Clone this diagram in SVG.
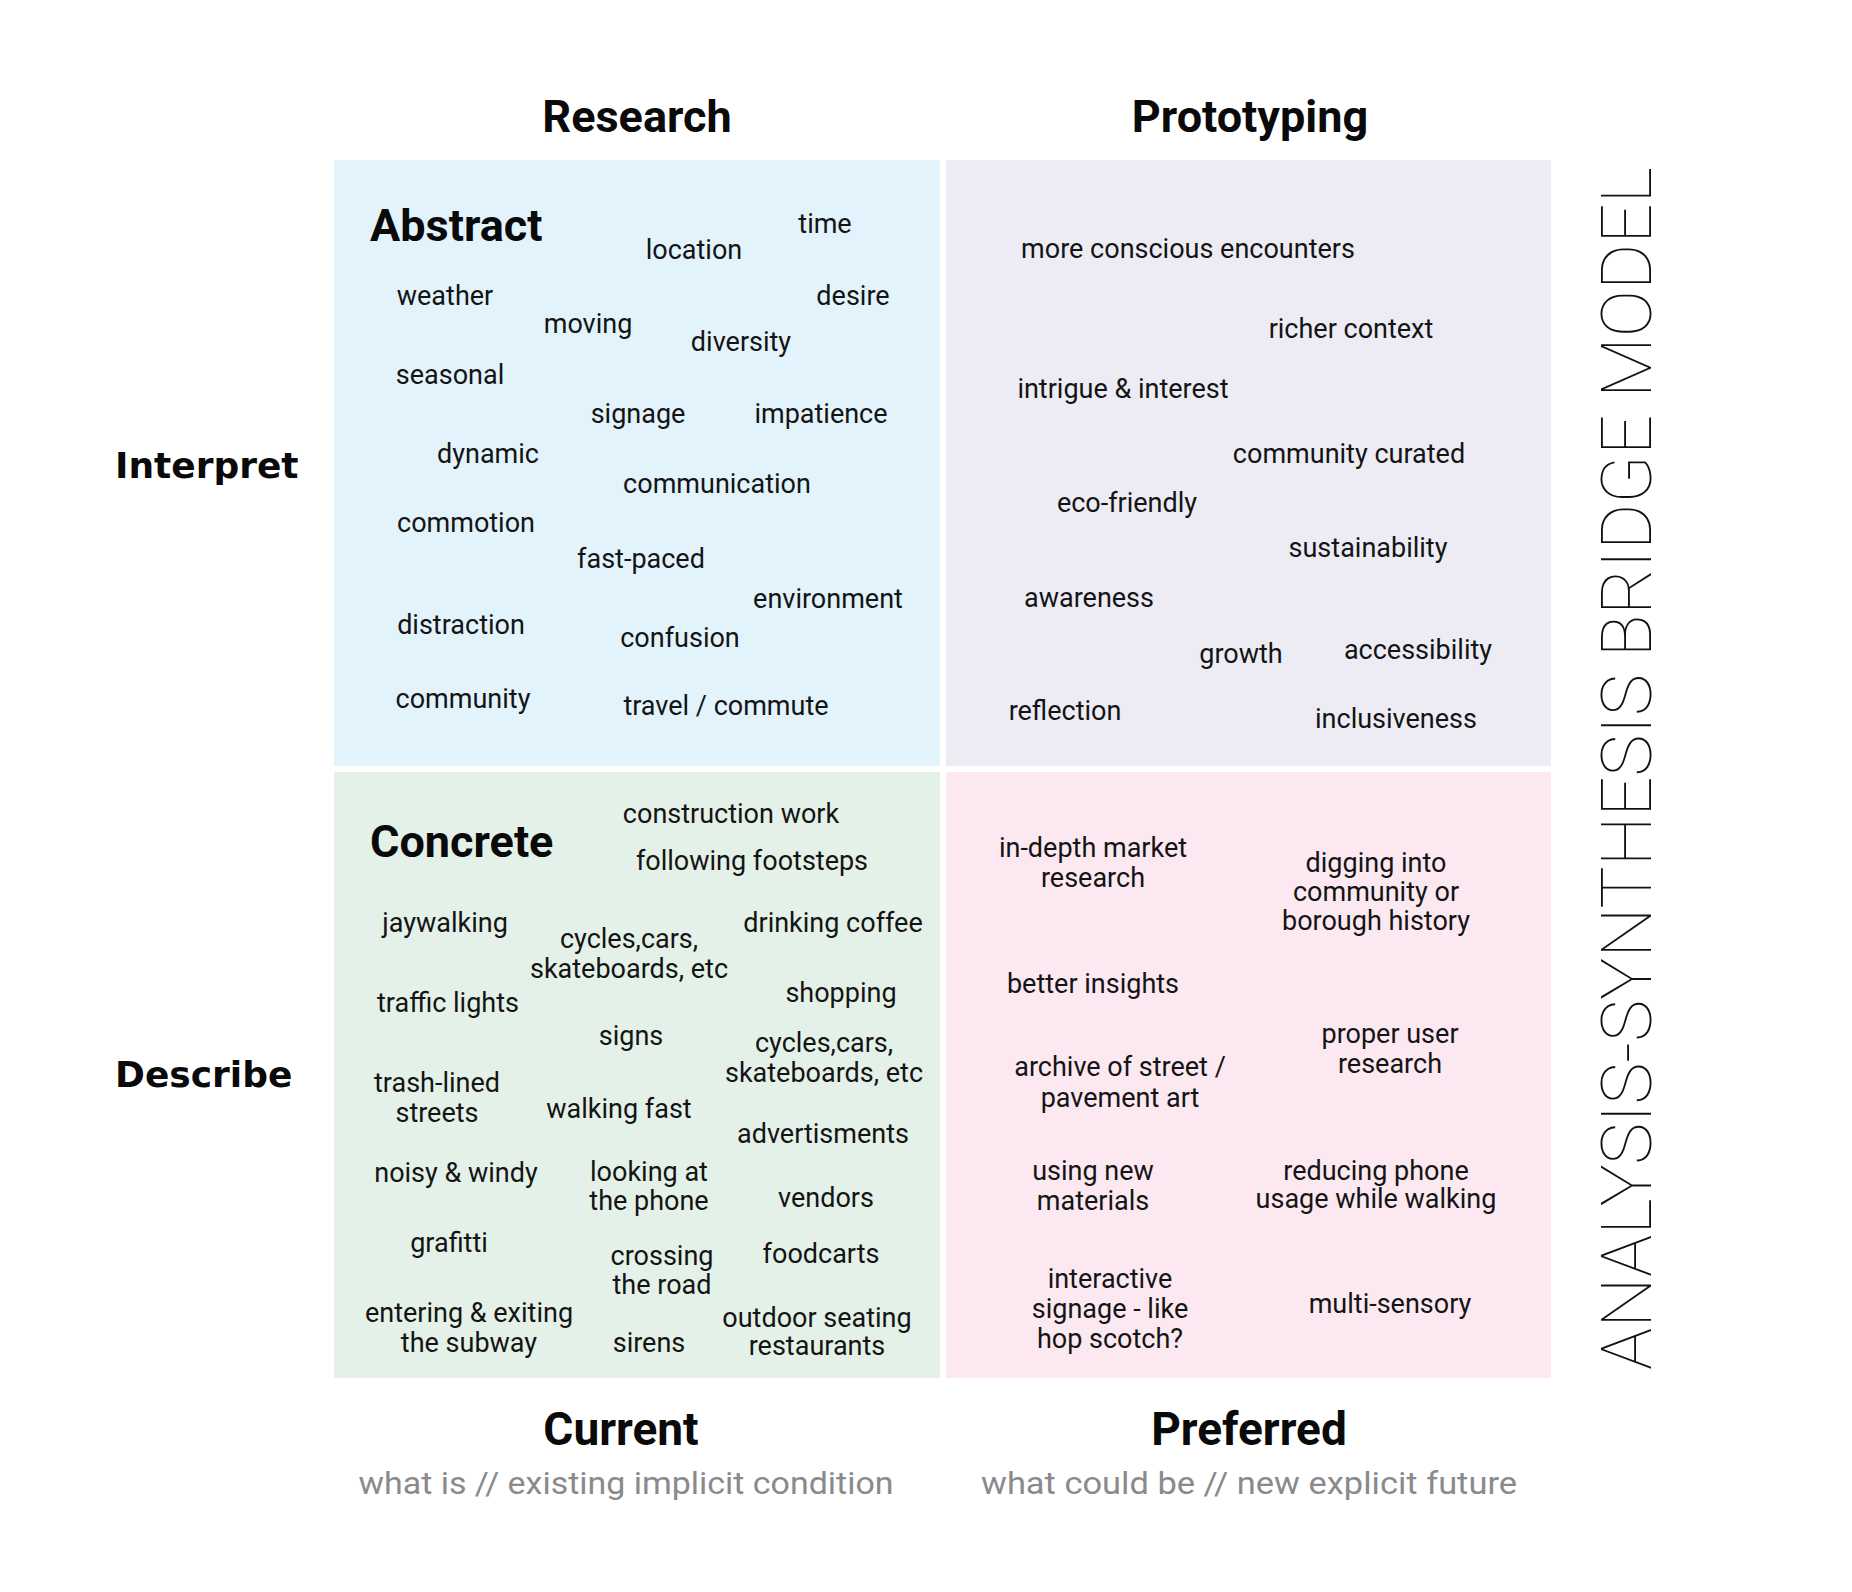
<svg xmlns="http://www.w3.org/2000/svg" width="1852" height="1592" viewBox="0 0 1852 1592">
<style>
.w{font-family:Roboto,"Liberation Sans",sans-serif;font-size:27px;fill:#141414;text-anchor:middle}
.h{font-family:Roboto,"Liberation Sans",sans-serif;font-weight:700;font-size:45px;fill:#0a0a0a}
.hc{text-anchor:middle}
.b{font-family:Roboto,"Liberation Sans",sans-serif;font-weight:700;font-size:46px;fill:#0a0a0a;text-anchor:middle}
.side{font-family:"DejaVu Sans",Verdana,sans-serif;font-weight:700;font-size:36px;fill:#0a0a0a}
.sub{font-family:Roboto,"Liberation Sans",sans-serif;font-size:32px;fill:#8a8a8d;text-anchor:middle}
.title{font-family:Roboto,Lato,"Liberation Sans",sans-serif;font-weight:100;font-size:70px;fill:#111}
</style>
<rect width="1852" height="1592" fill="#ffffff"/>
<g id="header-research"><text class="h hc" x="637" y="132">Research</text></g>
<g id="header-prototyping"><text class="h hc" x="1250" y="132">Prototyping</text></g>
<g id="label-interpret"><text class="side" x="115" y="478">Interpret</text></g>
<g id="label-describe"><text class="side" x="115" y="1087">Describe</text></g>
<g id="quadrant-abstract">
<rect x="334" y="160" width="606" height="606" fill="#e2f3fb"/>
<text class="h" x="370" y="241">Abstract</text>
<text class="w" x="825" y="233">time</text>
<text class="w" x="694" y="259">location</text>
<text class="w" x="445" y="305">weather</text>
<text class="w" x="853" y="305">desire</text>
<text class="w" x="588" y="333">moving</text>
<text class="w" x="741" y="351">diversity</text>
<text class="w" x="450" y="384">seasonal</text>
<text class="w" x="638" y="423">signage</text>
<text class="w" x="821" y="423">impatience</text>
<text class="w" x="488" y="463">dynamic</text>
<text class="w" x="717" y="493">communication</text>
<text class="w" x="466" y="532">commotion</text>
<text class="w" x="641" y="568">fast-paced</text>
<text class="w" x="828" y="608">environment</text>
<text class="w" x="461" y="634">distraction</text>
<text class="w" x="680" y="647">confusion</text>
<text class="w" x="463" y="708">community</text>
<text class="w" x="726" y="715">travel / commute</text>
</g>
<g id="quadrant-prototyping">
<rect x="946" y="160" width="605" height="606" fill="#edecf5"/>
<text class="w" x="1188" y="258">more conscious encounters</text>
<text class="w" x="1351" y="338">richer context</text>
<text class="w" x="1123" y="398">intrigue &amp; interest</text>
<text class="w" x="1349" y="463">community curated</text>
<text class="w" x="1127" y="512">eco-friendly</text>
<text class="w" x="1368" y="557">sustainability</text>
<text class="w" x="1089" y="607">awareness</text>
<text class="w" x="1241" y="663">growth</text>
<text class="w" x="1418" y="659">accessibility</text>
<text class="w" x="1065" y="720">reflection</text>
<text class="w" x="1396" y="728">inclusiveness</text>
</g>
<g id="quadrant-concrete">
<rect x="334" y="772" width="606" height="606" fill="#e4f1e8"/>
<text class="h" x="370" y="857">Concrete</text>
<text class="w" x="731" y="823">construction work</text>
<text class="w" x="752" y="870">following footsteps</text>
<text class="w" x="445" y="932">jaywalking</text>
<text class="w" x="833" y="932">drinking coffee</text>
<text class="w"><tspan x="629" y="948">cycles,cars,</tspan><tspan x="629" y="978">skateboards, etc</tspan></text>
<text class="w" x="841" y="1002">shopping</text>
<text class="w" x="448" y="1012">traffic lights</text>
<text class="w" x="631" y="1045">signs</text>
<text class="w"><tspan x="824" y="1052">cycles,cars,</tspan><tspan x="824" y="1082">skateboards, etc</tspan></text>
<text class="w"><tspan x="437" y="1092">trash-lined</tspan><tspan x="437" y="1122">streets</tspan></text>
<text class="w" x="619" y="1118">walking fast</text>
<text class="w" x="823" y="1143">advertisments</text>
<text class="w" x="456" y="1182">noisy &amp; windy</text>
<text class="w"><tspan x="649" y="1181">looking at</tspan><tspan x="649" y="1210">the phone</tspan></text>
<text class="w" x="826" y="1207">vendors</text>
<text class="w" x="449" y="1252">grafitti</text>
<text class="w"><tspan x="662" y="1265">crossing</tspan><tspan x="662" y="1294">the road</tspan></text>
<text class="w" x="821" y="1263">foodcarts</text>
<text class="w"><tspan x="469" y="1322">entering &amp; exiting</tspan><tspan x="469" y="1352">the subway</tspan></text>
<text class="w" x="649" y="1352">sirens</text>
<text class="w"><tspan x="817" y="1327">outdoor seating</tspan><tspan x="817" y="1355">restaurants</tspan></text>
</g>
<g id="quadrant-preferred">
<rect x="946" y="772" width="605" height="606" fill="#fbe8f1"/>
<text class="w"><tspan x="1093" y="857">in-depth market</tspan><tspan x="1093" y="887">research</tspan></text>
<text class="w"><tspan x="1376" y="872">digging into</tspan><tspan x="1376" y="901">community or</tspan><tspan x="1376" y="930">borough history</tspan></text>
<text class="w" x="1093" y="993">better insights</text>
<text class="w"><tspan x="1390" y="1043">proper user</tspan><tspan x="1390" y="1073">research</tspan></text>
<text class="w"><tspan x="1120" y="1076">archive of street /</tspan><tspan x="1120" y="1107">pavement art</tspan></text>
<text class="w"><tspan x="1093" y="1180">using new</tspan><tspan x="1093" y="1210">materials</tspan></text>
<text class="w"><tspan x="1376" y="1180">reducing phone</tspan><tspan x="1376" y="1208">usage while walking</tspan></text>
<text class="w"><tspan x="1110" y="1288">interactive</tspan><tspan x="1110" y="1318">signage - like</tspan><tspan x="1110" y="1348">hop scotch?</tspan></text>
<text class="w" x="1390" y="1313">multi-sensory</text>
</g>
<g id="footer-current">
<text class="b" x="621" y="1445">Current</text>
<text class="sub" x="626" y="1494" textLength="535" lengthAdjust="spacingAndGlyphs">what is // existing implicit condition</text>
</g>
<g id="footer-preferred">
<text class="b" x="1249" y="1445">Preferred</text>
<text class="sub" x="1249" y="1494" textLength="536" lengthAdjust="spacingAndGlyphs">what could be // new explicit future</text>
</g>
<g id="title">
<text class="title" transform="translate(1651,1370) rotate(-90)" x="0" y="0" textLength="1203" lengthAdjust="spacingAndGlyphs">ANALYSIS-SYNTHESIS BRIDGE MODEL</text>
</g>
<g id="connectors"/>
</svg>
